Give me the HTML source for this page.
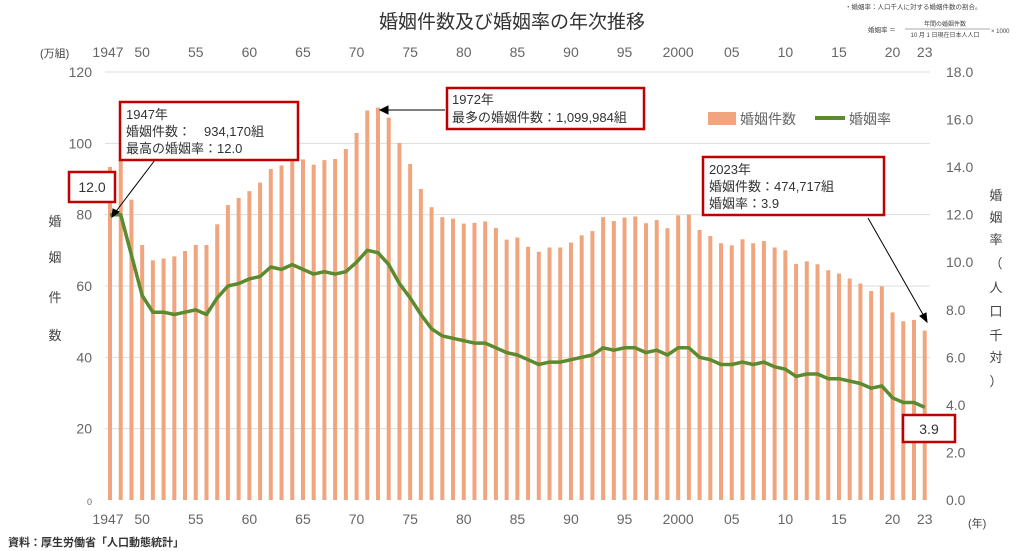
<!DOCTYPE html>
<html><head><meta charset="utf-8"><style>
body{margin:0;background:#fff;}
svg{display:block;font-family:"Liberation Sans","Noto Sans CJK JP",sans-serif;}
</style></head><body>
<svg id="s" width="1024" height="551" viewBox="0 0 1024 551" xmlns="http://www.w3.org/2000/svg">
<text x="512" y="28" font-size="19" text-anchor="middle" fill="#333">婚姻件数及び婚姻率の年次推移</text>
<text x="845" y="9" font-size="6.5" fill="#444">・婚姻率：人口千人に対する婚姻件数の割合。</text>
<text x="868" y="32" font-size="6.5" fill="#444">婚姻率 ＝</text>
<text x="945" y="26" font-size="6" fill="#444" text-anchor="middle">年間の婚姻件数</text>
<line x1="905" y1="29" x2="990" y2="29" stroke="#555" stroke-width="0.6"/>
<text x="945" y="37" font-size="6" fill="#444" text-anchor="middle">10 月 1 日現在日本人人口</text>
<text x="991" y="33" font-size="6" fill="#444">× 1000</text>
<g id="grid" stroke="#ddd" stroke-width="1"></g>
<g id="bars" fill="#f0a57e"></g>
<polyline id="ln" fill="none" stroke="#5b8a2f" stroke-width="3.5" stroke-linejoin="round"/>
<g font-size="14" fill="#666" text-anchor="end" id="yl"></g>
<g font-size="14" fill="#666" text-anchor="start" id="yr"></g>
<g font-size="14" fill="#666" text-anchor="middle" id="xl"></g>
<text x="40" y="57" font-size="11" fill="#444">(万組)</text>
<text x="968" y="527" font-size="11" fill="#444">(年)</text>
<g font-size="13" fill="#444" text-anchor="middle">
<text x="55" y="226">婚</text><text x="55" y="262">姻</text><text x="55" y="302">件</text><text x="55" y="340">数</text>
<text x="996" y="200">婚</text><text x="996" y="222">姻</text><text x="996" y="244">率</text><text x="996" y="268">（</text><text x="996" y="292">人</text><text x="996" y="316">口</text><text x="996" y="340">千</text><text x="996" y="362">対</text><text x="996" y="386">）</text>
</g>
<text x="8" y="546" font-size="11" font-weight="bold" fill="#333">資料：厚生労働省「人口動態統計」</text>
<rect x="708" y="112" width="28" height="13" fill="#f0a57e"/>
<text x="740" y="124" font-size="14" fill="#666">婚姻件数</text>
<line x1="815" y1="118" x2="845" y2="118" stroke="#5b8a2f" stroke-width="4"/>
<text x="849" y="124" font-size="14" fill="#666">婚姻率</text>
<g stroke="#000" stroke-width="1" fill="#000">
<line x1="155" y1="160" x2="114" y2="214"/><polygon points="112,217 113,209 119,212"/>
<line x1="445" y1="110" x2="384" y2="110"/><polygon points="380,110 388,106 388,114"/>
<line x1="868" y1="218" x2="925" y2="318"/><polygon points="927,322 920,316 926,313"/>
</g>
<g fill="#fff" stroke="#c00000" stroke-width="2.5">
<rect x="120" y="102" width="178" height="58"/>
<rect x="447" y="88" width="197" height="41"/>
<rect x="703" y="157" width="181" height="58"/>
<rect x="69" y="172" width="46" height="30"/>
<rect x="903" y="415" width="52" height="27"/>
</g>
<g font-size="13" fill="#333">
<text x="126" y="119">1947年</text>
<text x="126" y="136">婚姻件数：　934,170組</text>
<text x="126" y="153">最高の婚姻率：12.0</text>
<text x="452" y="104">1972年</text>
<text x="452" y="122">最多の婚姻件数：1,099,984組</text>
<text x="709" y="174">2023年</text>
<text x="709" y="191">婚姻件数：474,717組</text>
<text x="709" y="208">婚姻率：3.9</text>
<text x="92" y="192" text-anchor="middle" font-size="14">12.0</text>
<text x="929" y="434" text-anchor="middle" font-size="14">3.9</text>
</g>
</svg>
<script>
var m=[93.4,95.3,84.2,71.5,67.2,67.7,68.3,69.8,71.5,71.5,77.3,82.7,84.7,86.6,89.0,92.8,93.8,96.3,95.5,94.0,95.3,95.6,98.4,102.9,109.2,110.0,107.2,100.1,94.2,87.2,82.1,79.3,78.9,77.5,77.7,78.1,76.3,73.0,73.6,71.0,69.6,70.8,70.8,72.2,74.2,75.4,79.3,78.2,79.2,79.5,77.6,78.5,76.2,79.8,80.0,75.7,74.0,72.0,71.4,73.1,72.0,72.6,70.8,70.0,66.2,66.9,66.1,64.4,63.5,62.1,60.7,58.6,59.9,52.6,50.1,50.5,47.5];
var r=[12.0,12.0,10.3,8.6,7.9,7.9,7.8,7.9,8.0,7.8,8.5,9.0,9.1,9.3,9.4,9.8,9.7,9.9,9.7,9.5,9.6,9.5,9.6,10.0,10.5,10.4,9.9,9.1,8.5,7.8,7.2,6.9,6.8,6.7,6.6,6.6,6.4,6.2,6.1,5.9,5.7,5.8,5.8,5.9,6.0,6.1,6.4,6.3,6.4,6.4,6.2,6.3,6.1,6.4,6.4,6.0,5.9,5.7,5.7,5.8,5.7,5.8,5.6,5.5,5.2,5.3,5.3,5.1,5.1,5.0,4.9,4.7,4.8,4.3,4.1,4.1,3.9];
var NS="http://www.w3.org/2000/svg";function el(t,a,p){var e=document.createElementNS(NS,t);for(var k in a)e.setAttribute(k,a[k]);document.getElementById(p).appendChild(e);return e;}
function X(i){return 110+i*10.72;}var y0=500,y1=72;
for(var v=0;v<=120;v+=20){var y=y0-(y0-y1)*v/120;if(v>0)el("line",{x1:105,x2:930,y1:y,y2:y},"grid");var t=el("text",{x:92,y:y+5,"font-size":v==0?9:14},"yl");t.textContent=v;}
for(var v=0;v<=18;v+=2){var y=y0-(y0-y1)*v/18;var t=el("text",{x:946,y:y+5},"yr");t.textContent=v.toFixed(1);}
m.forEach(function(v,i){var h=(y0-y1)*v/120;el("rect",{x:X(i)-2,y:y0-h,width:4,height:h},"bars");});
document.getElementById("ln").setAttribute("points",r.map(function(v,i){return X(i)+","+(y0-(y0-y1)*v/18).toFixed(1)}).join(" "));
var labs=[[0,"1947"],[3,"50"],[8,"55"],[13,"60"],[18,"65"],[23,"70"],[28,"75"],[33,"80"],[38,"85"],[43,"90"],[48,"95"],[53,"2000"],[58,"05"],[63,"10"],[68,"15"],[73,"20"],[76,"23"]];
labs.forEach(function(l){var x=X(l[0]);if(l[0]==0)x=X(0)-2;var t=el("text",{x:x,y:524},"xl");t.textContent=l[1];var t2=el("text",{x:x,y:57},"xl");t2.textContent=l[1];});
</script>
</body></html>
